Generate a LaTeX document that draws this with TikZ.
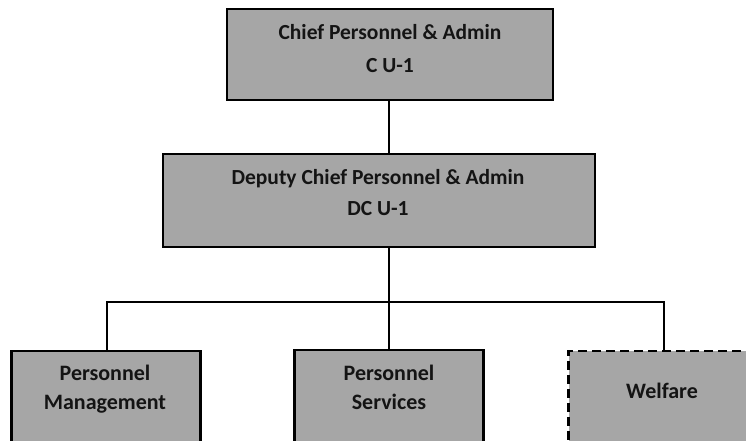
\documentclass[tikz,border=0pt]{standalone}
\usepackage{fontspec}
\setmainfont{Carlito}
\definecolor{boxgray}{HTML}{A6A6A6}
\definecolor{txt}{HTML}{141414}
\tikzset{
  orgbox/.style={draw=black, fill=boxgray, line width=2.6pt, inner sep=0pt, rectangle},
  dashbox/.style={orgbox, dash pattern=on 9pt off 5pt},
  lbl/.style={font=\bfseries\fontsize{21.5}{32}\selectfont, text=txt, align=center, inner sep=0pt},
  conn/.style={draw=black, line width=2pt}
}
\begin{document}
\begin{tikzpicture}[x=1pt,y=-1pt]
\useasboundingbox (0,0) rectangle (746,441);
\clip (0,0) rectangle (746,441);
\fill[white] (0,0) rectangle (746,441);
% boxes
\node[orgbox, minimum width=326pt, minimum height=91pt] (chief) at (390,54.5) {};
\node[orgbox, minimum width=432pt, minimum height=93pt] (deputy) at (379,200.5) {};
\node[orgbox, minimum width=189pt, minimum height=130pt] (pm) at (106,416) {};
\node[orgbox, minimum width=189pt, minimum height=130pt] (ps) at (389,415) {};
\node[dashbox, minimum width=189pt, minimum height=130pt] (welf) at (663,416) {};
% labels
\node[lbl, font=\bfseries\fontsize{21.5}{33}\selectfont] (chieft) at (390,49) {Chief Personnel \& Admin\\C U-1};
\node[lbl, font=\bfseries\fontsize{21.5}{31}\selectfont] (deputyt) at (378,192.5) {Deputy Chief Personnel \& Admin\\DC U-1};
\node[lbl, font=\bfseries\fontsize{22}{29}\selectfont] (pmt) at (105,389) {Personnel\\Management};
\node[lbl, font=\bfseries\fontsize{22}{29}\selectfont] (pst) at (389,387) {Personnel\\Services};
\node[lbl, font=\bfseries\fontsize{22}{29}\selectfont] (welft) at (662,391) {Welfare};
% connectors
\coordinate (bus) at (389,302);
\draw[conn] (chief.south -| bus) -- (deputy.north -| bus);
\draw[conn] (deputy.south -| bus) -- (ps.north);
\draw[conn] (pm.north -| 107,0) |- (bus) -| (welf.north -| 664,0);
\end{tikzpicture}
\end{document}
